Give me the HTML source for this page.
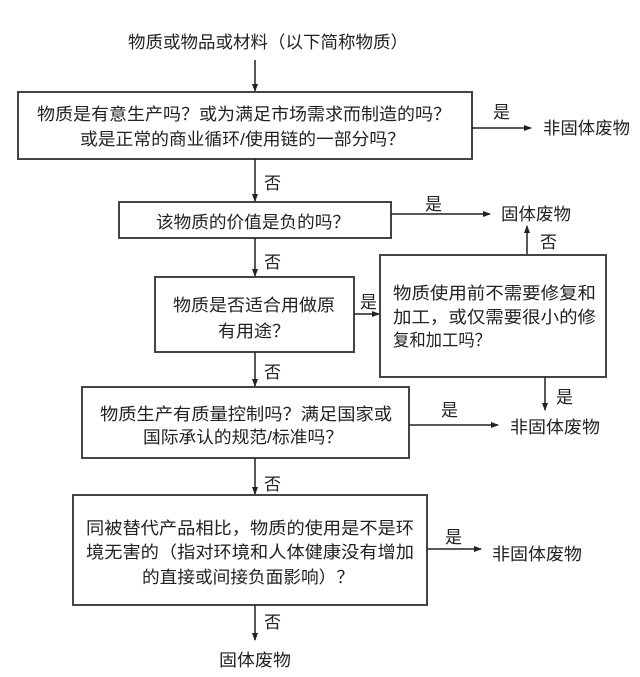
<!DOCTYPE html>
<html><head><meta charset="utf-8"><style>
html,body{margin:0;padding:0;background:#fff;}
svg{display:block;}
text{font-family:"Liberation Sans","Noto Sans CJK SC","WenQuanYi Zen Hei",sans-serif;font-size:17px;fill:#222;}
</style></head><body>
<svg width="640" height="677" viewBox="0 0 640 677" xmlns="http://www.w3.org/2000/svg">
<defs><marker id="a" markerWidth="8" markerHeight="8" refX="7" refY="4" orient="auto" markerUnits="userSpaceOnUse"><path d="M0,1 L8,4 L0,7 Z" fill="#222"/></marker></defs>
<g stroke="#444" stroke-width="2" fill="none">
<rect x="18" y="92" width="454" height="67"/>
<rect x="119" y="202" width="272" height="36"/>
<rect x="155" y="277" width="199" height="75"/>
<rect x="380" y="255" width="226" height="122"/>
<rect x="82" y="387" width="327" height="71"/>
<rect x="73" y="495" width="354" height="110"/>
</g>
<g stroke="#222" stroke-width="1.5" marker-end="url(#a)">
<line x1="255" y1="60" x2="255" y2="91"/>
<line x1="472" y1="128" x2="531" y2="128"/>
<line x1="255" y1="159" x2="255" y2="201"/>
<line x1="391" y1="214" x2="490" y2="214"/>
<line x1="527" y1="254" x2="527" y2="226"/>
<line x1="255" y1="238" x2="255" y2="276"/>
<line x1="354" y1="314" x2="379" y2="314"/>
<line x1="545" y1="377" x2="545" y2="410"/>
<line x1="255" y1="352" x2="255" y2="386"/>
<line x1="409" y1="425" x2="498" y2="425"/>
<line x1="255" y1="458" x2="255" y2="494"/>
<line x1="427" y1="549" x2="481" y2="549"/>
<line x1="255" y1="605" x2="255" y2="640"/>
</g>
<text x="128" y="48" textLength="280" lengthAdjust="spacingAndGlyphs">物质或物品或材料（以下简称物质）</text>
<text x="37" y="120" textLength="414" lengthAdjust="spacingAndGlyphs">物质是有意生产吗？或为满足市场需求而制造的吗？</text>
<text x="80" y="145" textLength="325" lengthAdjust="spacingAndGlyphs">或是正常的商业循环/使用链的一部分吗？</text>
<text x="493" y="118">是</text>
<text x="543" y="134" textLength="87" lengthAdjust="spacingAndGlyphs">非固体废物</text>
<text x="264" y="189">否</text>
<text x="156" y="228" textLength="194" lengthAdjust="spacingAndGlyphs">该物质的价值是负的吗？</text>
<text x="425" y="210">是</text>
<text x="501" y="220" textLength="70" lengthAdjust="spacingAndGlyphs">固体废物</text>
<text x="540" y="248">否</text>
<text x="264" y="268">否</text>
<text x="173" y="311" textLength="162" lengthAdjust="spacingAndGlyphs">物质是否适合用做原</text>
<text x="218" y="337" textLength="72" lengthAdjust="spacingAndGlyphs">有用途？</text>
<text x="360" y="308">是</text>
<text x="393" y="299" textLength="203" lengthAdjust="spacingAndGlyphs">物质使用前不需要修复和</text>
<text x="393" y="323" textLength="203" lengthAdjust="spacingAndGlyphs">加工，或仅需要很小的修</text>
<text x="393" y="346" textLength="98" lengthAdjust="spacingAndGlyphs">复和加工吗？</text>
<text x="556" y="403">是</text>
<text x="264" y="378">否</text>
<text x="100" y="420" textLength="292" lengthAdjust="spacingAndGlyphs">物质生产有质量控制吗？满足国家或</text>
<text x="143" y="443" textLength="200" lengthAdjust="spacingAndGlyphs">国际承认的规范/标准吗？</text>
<text x="441" y="416">是</text>
<text x="510" y="433" textLength="90" lengthAdjust="spacingAndGlyphs">非固体废物</text>
<text x="264" y="490">否</text>
<text x="86" y="534" textLength="328" lengthAdjust="spacingAndGlyphs">同被替代产品相比，物质的使用是不是环</text>
<text x="86" y="558" textLength="328" lengthAdjust="spacingAndGlyphs">境无害的（指对环境和人体健康没有增加</text>
<text x="142" y="583" textLength="212" lengthAdjust="spacingAndGlyphs">的直接或间接负面影响）？</text>
<text x="445" y="543">是</text>
<text x="492" y="560" textLength="90" lengthAdjust="spacingAndGlyphs">非固体废物</text>
<text x="264" y="628">否</text>
<text x="219" y="666" textLength="72" lengthAdjust="spacingAndGlyphs">固体废物</text>
</svg>
</body></html>
